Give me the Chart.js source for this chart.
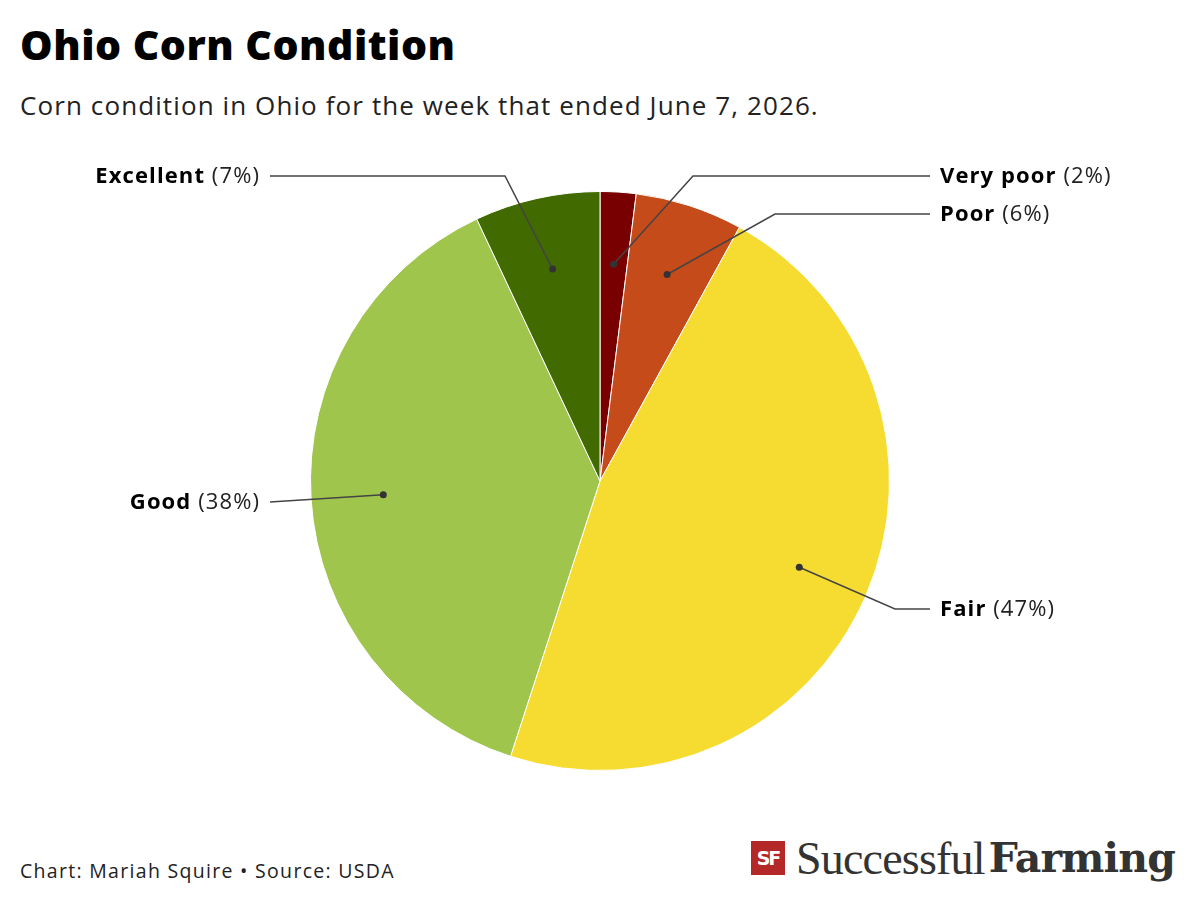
<!DOCTYPE html>
<html><head><meta charset="utf-8">
<script src="https://cdn.jsdelivr.net/npm/chart.js@4"></script>
<style>
html,body{margin:0;padding:0;background:#fff;width:1200px;height:903px;overflow:hidden;font-family:"Open Sans","Noto Sans",sans-serif;}
#title{position:absolute;left:20px;top:16px;font-size:41px;font-weight:800;color:#000;letter-spacing:0.5px;white-space:nowrap;}
#sub{position:absolute;left:20px;top:87px;font-size:26px;color:#222;letter-spacing:1.1px;white-space:nowrap;}
#foot{position:absolute;left:20px;top:857px;font-size:19.5px;color:#222;letter-spacing:1.3px;white-space:nowrap;}
#wrap{position:absolute;left:0;top:150px;width:1200px;height:662px;}
#logo{position:absolute;left:751px;top:838px;height:40px;display:flex;align-items:center;}
#sf{width:34px;height:34px;background:#b42828;color:#fff;font:900 19px "DejaVu Sans",sans-serif;display:flex;align-items:center;justify-content:center;letter-spacing:-2px;}
#succ{font:46px "Liberation Serif",serif;color:#333;margin-left:11px;letter-spacing:-0.8px;}
#farm{font:bold 41px "DejaVu Serif",serif;color:#333;letter-spacing:-0.9px;margin-left:4px;}
</style></head><body>
<div id="title">Ohio Corn Condition</div>
<div id="sub">Corn condition in Ohio for the week that ended June 7, 2026.</div>
<div id="wrap"><canvas id="c"></canvas></div>
<div id="foot">Chart: Mariah Squire • Source: USDA</div>
<div id="logo"><div id="sf">SF</div><span id="succ">Successful</span><span id="farm">Farming</span></div>
<script>
const categories = ["Very poor", "Poor", "Fair", "Good", "Excellent"];
const values = [2, 6, 47, 38, 7];
const colors = ["#780000", "#c64b1b", "#f6dc31", "#a0c54d", "#416a00"];

// label layout: side, label y offset from center, elbow x offset from center
const labelLayout = [
  {side: "right", dy: -305, ex: 93},
  {side: "right", dy: -267, ex: 175},
  {side: "right", dy: 128, ex: 295},
  {side: "left",  dy: 21,  ex: -330},
  {side: "left",  dy: -305, ex: -95}
];

const leaderPlugin = {
  id: "leaders",
  afterDatasetsDraw(chart) {
    const ctx = chart.ctx;
    const meta = chart.getDatasetMeta(0);
    meta.data.forEach((arc, i) => {
      const p = arc.getProps(["x","y","startAngle","endAngle","outerRadius"], true);
      const mid = (p.startAngle + p.endAngle) / 2;
      const r = p.outerRadius * 0.75;
      const dx = p.x + Math.cos(mid) * r, dy = p.y + Math.sin(mid) * r;
      const L = labelLayout[i];
      const ly = p.y + L.dy;
      const ex = p.x + L.ex;
      const tx = L.side === "right" ? 930 : 270;
      ctx.save();
      ctx.strokeStyle = "#444"; ctx.lineWidth = 1.5;
      ctx.beginPath(); ctx.moveTo(dx, dy); ctx.lineTo(ex, ly); ctx.lineTo(tx, ly); ctx.stroke();
      ctx.fillStyle = "#333";
      ctx.beginPath(); ctx.arc(dx, dy, 3.5, 0, Math.PI*2); ctx.fill();
      ctx.textBaseline = "middle";
      ctx.letterSpacing = "1.1px";
      const bold = "bold 22px 'Open Sans', 'Noto Sans', sans-serif";
      const reg = "22px 'Open Sans', 'Noto Sans', sans-serif";
      const name = categories[i];
      const pct = " (" + values[i] + "%)";
      ctx.font = bold; const wb = ctx.measureText(name).width;
      ctx.font = reg; const wr = ctx.measureText(pct).width;
      let x0 = L.side === "right" ? 940 : 260 - wb - wr;
      ctx.fillStyle = "#000"; ctx.font = bold; ctx.textAlign = "left";
      ctx.fillText(name, x0, ly + 1);
      ctx.fillStyle = "#222"; ctx.font = reg;
      ctx.fillText(pct, x0 + wb, ly + 1);
      ctx.restore();
    });
  }
};

new Chart(document.getElementById("c"), {
  type: "pie",
  data: { labels: categories, datasets: [{ data: values, backgroundColor: colors, borderColor: "#ffffff", borderWidth: 1 }] },
  options: {
    responsive: true, maintainAspectRatio: false, animation: false,
    layout: { padding: { top: 41, bottom: 41, left: 0, right: 0 } },
    plugins: { legend: { display: false }, tooltip: { enabled: false } }
  },
  plugins: [leaderPlugin]
});
</script>
</body></html>
